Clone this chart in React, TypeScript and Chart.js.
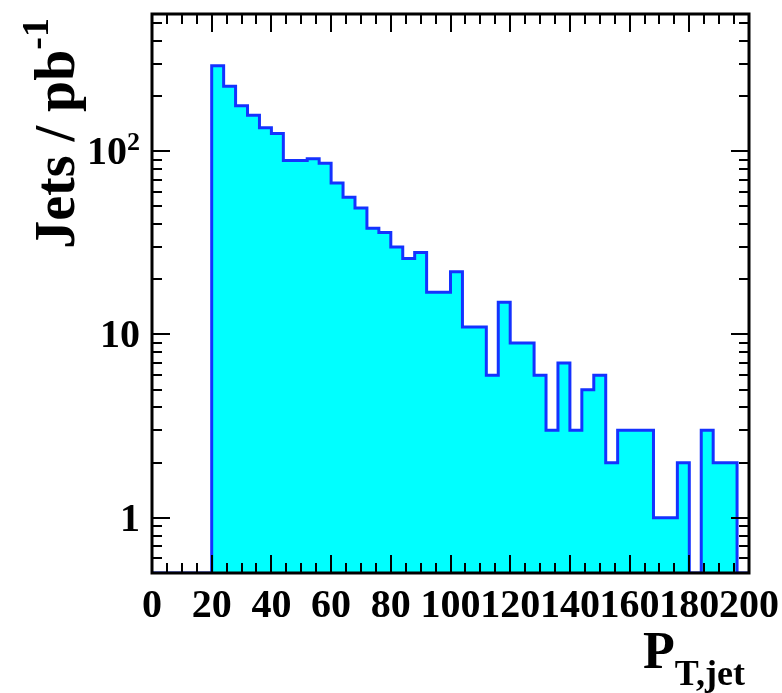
import { useEffect, useRef } from 'react';
import { Chart, registerables } from 'chart.js';

Chart.register(...registerables);

// Jet transverse-momentum spectrum, 4 GeV bins from 0 to 200
const binLowEdges = [
  0, 4, 8, 12, 16, 20, 24, 28, 32, 36, 40, 44, 48, 52, 56, 60, 64, 68, 72, 76,
  80, 84, 88, 92, 96, 100, 104, 108, 112, 116, 120, 124, 128, 132, 136, 140,
  144, 148, 152, 156, 160, 164, 168, 172, 176, 180, 184, 188, 192, 196,
];
const binUpperEnd = 200;
const jetCounts = [
  0, 0, 0, 0, 0, 292, 226, 177, 157, 134, 125, 89, 89, 91, 86, 67, 56, 49, 38, 36,
  30, 26, 28, 17, 17, 22, 11, 11, 6, 15, 9, 9, 6, 3, 7, 3, 5, 6, 2, 3,
  3, 3, 1, 1, 2, 0, 3, 2, 2, 0,
];

const xTickValues = [0, 20, 40, 60, 80, 100, 120, 140, 160, 180, 200];
const yTickValues = [1, 10, 100];
// mantissa and exponent of the y labels ('' = no exponent)
const yTickBases = ['1', '10', '10'];
const yTickExponents = ['', '', '2'];

const X_MIN = 0;
const X_MAX = 200;
const Y_MIN = 0.5;
const Y_MAX = 560;

const SERIF = '"Liberation Serif", "Times New Roman", serif';

const zeroPadding = (scale: any) => {
  scale.paddingTop = 0;
  scale.paddingBottom = 0;
  scale.paddingLeft = 0;
  scale.paddingRight = 0;
};

// ROOT-style frame: thick box with inward ticks on all four sides, y labels and axis titles
const frameAndTitles = {
  id: 'frameAndTitles',
  afterDraw(chart: any) {
    const { ctx, chartArea } = chart;
    const { left, right, top, bottom } = chartArea;
    const xs = chart.scales.x;
    const ys = chart.scales.y;
    ctx.save();
    ctx.strokeStyle = '#000';
    ctx.lineWidth = 2;
    ctx.beginPath();
    for (let v = X_MIN; v <= X_MAX; v += 5) {
      const px = Math.round(xs.getPixelForValue(v));
      const len = v % 20 === 0 ? 18 : 10;
      ctx.moveTo(px, bottom);
      ctx.lineTo(px, bottom - len);
      ctx.moveTo(px, top);
      ctx.lineTo(px, top + len);
    }
    for (const decade of [0.1, 1, 10, 100]) {
      for (let m = 1; m <= 9; m++) {
        const v = m * decade;
        if (v < Y_MIN * 0.999 || v > Y_MAX) continue;
        const py = Math.round(ys.getPixelForValue(v));
        const len = m === 1 ? 18 : 10;
        ctx.moveTo(left, py);
        ctx.lineTo(left + len, py);
        ctx.moveTo(right, py);
        ctx.lineTo(right - len, py);
      }
    }
    ctx.stroke();
    ctx.lineWidth = 3;
    ctx.strokeRect(left, top, right - left, bottom - top);

    ctx.fillStyle = '#000';

    // y tick labels, right-aligned next to the frame, with raised exponents
    const labelFont = `bold 40px ${SERIF}`;
    const expFont = `bold 26px ${SERIF}`;
    ctx.textBaseline = 'alphabetic';
    ctx.textAlign = 'left';
    yTickValues.forEach((v, i) => {
      const py = ys.getPixelForValue(v);
      ctx.font = labelFont;
      const wb = ctx.measureText(yTickBases[i]).width;
      let we = 0;
      if (yTickExponents[i]) {
        ctx.font = expFont;
        we = ctx.measureText(yTickExponents[i]).width;
      }
      const xEnd = left - 12;
      const baseY = py + 13;
      ctx.font = labelFont;
      ctx.fillText(yTickBases[i], xEnd - wb - we, baseY);
      if (yTickExponents[i]) {
        ctx.font = expFont;
        ctx.fillText(yTickExponents[i], xEnd - we, baseY - 14);
      }
    });

    // y title: Jets / pb^-1, rotated, ending near the top of the frame
    const mainFont = `bold 56px ${SERIF}`;
    const supFont = `bold 38px ${SERIF}`;
    ctx.font = mainFont;
    const wMain = ctx.measureText('Jets / pb').width;
    ctx.font = supFont;
    const wSup = ctx.measureText('-1').width;
    ctx.save();
    ctx.translate(74, 18);
    ctx.rotate(-Math.PI / 2);
    ctx.font = mainFont;
    ctx.fillText('Jets / pb', -(wMain + wSup), 0);
    ctx.font = supFont;
    ctx.fillText('-1', -wSup, -26);
    ctx.restore();

    // x title: P_{T,jet}
    ctx.font = `bold 52px ${SERIF}`;
    const wP = ctx.measureText('P').width;
    ctx.fillText('P', 643, 668);
    ctx.font = `bold 36px ${SERIF}`;
    ctx.fillText('T,jet', 643 + wP, 685);
    ctx.restore();
  },
};

export default function App() {
  const canvasRef = useRef<HTMLCanvasElement | null>(null);

  useEffect(() => {
    const canvas = canvasRef.current;
    if (!canvas) return;

    const points = binLowEdges.map((x, i) => ({ x, y: Math.max(jetCounts[i], Y_MIN) }));
    points.push({ x: binUpperEnd, y: Math.max(jetCounts[jetCounts.length - 1], Y_MIN) });

    const tickFont = { family: SERIF, weight: 'bold' as const, size: 40 };

    const chart = new Chart(canvas, {
      type: 'line',
      data: {
        datasets: [
          {
            data: points,
            stepped: true,
            borderColor: '#1432ff',
            borderWidth: 3,
            backgroundColor: '#00ffff',
            fill: 'start',
            pointRadius: 0,
            tension: 0,
          },
        ],
      },
      options: {
        responsive: false,
        animation: false,
        layout: { padding: { top: 14, right: 33, left: 0, bottom: 0 } },
        plugins: { legend: { display: false }, tooltip: { enabled: false } },
        scales: {
          x: {
            type: 'linear',
            min: X_MIN,
            max: X_MAX,
            grid: { display: false },
            border: { display: false },
            afterBuildTicks: (scale: any) => {
              scale.ticks = xTickValues.map((v) => ({ value: v }));
            },
            afterFit: (scale: any) => {
              scale.height = 120;
              zeroPadding(scale);
            },
            ticks: {
              autoSkip: false,
              maxRotation: 0,
              minRotation: 0,
              padding: 2,
              color: '#000',
              font: tickFont,
              callback: (v: any) => String(v),
            },
          },
          y: {
            type: 'logarithmic',
            min: Y_MIN,
            max: Y_MAX,
            grid: { display: false },
            border: { display: false },
            afterBuildTicks: (scale: any) => {
              scale.ticks = yTickValues.map((v) => ({ value: v }));
            },
            afterFit: (scale: any) => {
              scale.width = 152;
              zeroPadding(scale);
            },
            ticks: {
              display: false,
            },
          },
        },
      },
      plugins: [frameAndTitles],
    });

    return () => chart.destroy();
  }, []);

  return (
    <div style={{ position: 'absolute', left: 0, top: 0, width: 782, height: 693, background: '#fff' }}>
      <canvas ref={canvasRef} width={782} height={693} style={{ display: 'block' }} />
    </div>
  );
}
